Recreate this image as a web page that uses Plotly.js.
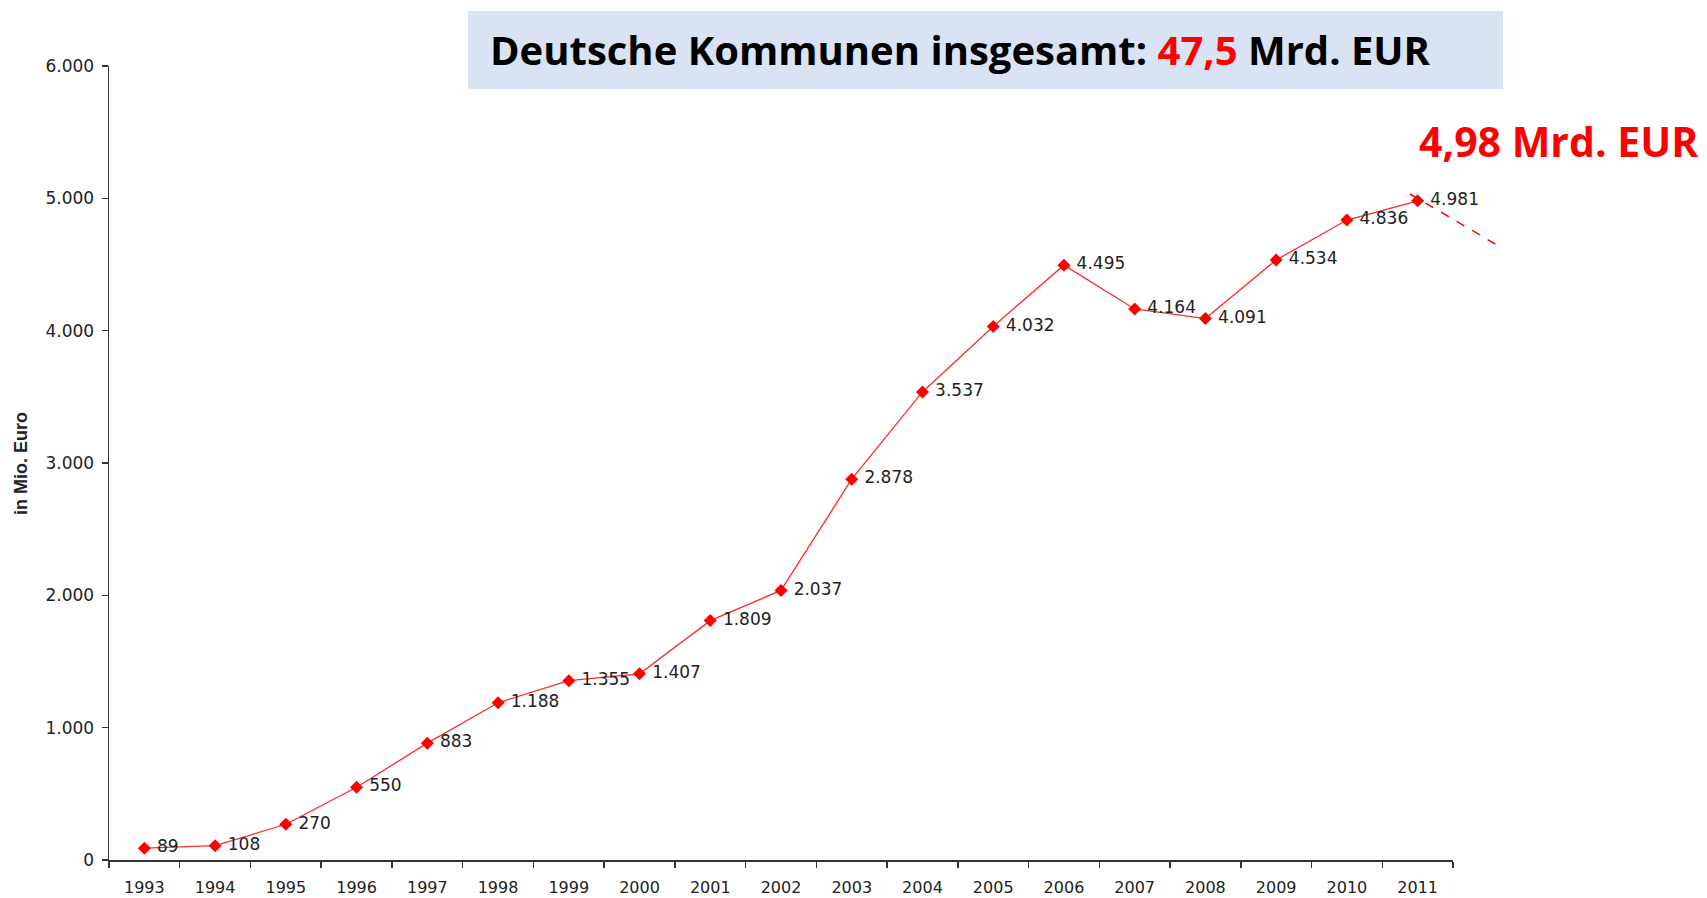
<!DOCTYPE html>
<html>
<head>
<meta charset="utf-8">
<script src="https://cdn.plot.ly/plotly-3.0.1.min.js"></script>
<style>html,body{margin:0;padding:0;background:#fff;}#chart{width:1707px;height:898px;}</style>
</head>
<body>
<div id="chart"></div>
<script>
const years = ["1993","1994","1995","1996","1997","1998","1999","2000","2001","2002","2003","2004","2005","2006","2007","2008","2009","2010","2011"];
const values = [89,108,270,550,883,1188,1355,1407,1809,2037,2878,3537,4032,4495,4164,4091,4534,4836,4981];
const yTicks = [0,1000,2000,3000,4000,5000,6000];
const titleText = "Deutsche Kommunen insgesamt: <span style='color:#ff0000'>47,5</span> Mrd. EUR";
const calloutText = "4,98 Mrd. EUR";
const yTitle = "<b>in Mio. Euro</b>";

const trace = {
  x: years, y: values, type: "scatter", mode: "lines+markers+text",
  line: {color: "#ff2a2a", width: 1.3},
  marker: {symbol: "diamond", size: 10, color: "#ff0000"},
  texttemplate: " %{y:,d}", textposition: "middle right",
  textfont: {family: "DejaVu Sans, sans-serif", size: 17, color: "#222"},
  cliponaxis: false, hoverinfo: "x+y"
};

const layout = {
  width: 1707, height: 898,
  margin: {l: 109, r: 254, t: 66, b: 38},
  paper_bgcolor: "#fff", plot_bgcolor: "#fff",
  separators: ",.",
  showlegend: false,
  font: {family: "DejaVu Sans, sans-serif", size: 17, color: "#222"},
  xaxis: {
    type: "category", range: [-0.5, 18.5],
    showline: true, linecolor: "#333", linewidth: 1.5,
    ticks: "outside", tickson: "boundaries", ticklen: 6, tickcolor: "#333", tickwidth: 1.5,
    showgrid: false, zeroline: false,
    tickfont: {family: "DejaVu Sans, sans-serif", size: 16, color: "#222"},
    ticklabelstandoff: 12
  },
  yaxis: {
    range: [0, 6000], tickvals: yTicks, tickformat: ",d",
    showline: true, linecolor: "#333", linewidth: 1.5,
    ticks: "outside", ticklen: 6, tickcolor: "#333", tickwidth: 1.5,
    showgrid: false, zeroline: false,
    tickfont: {family: "DejaVu Sans, sans-serif", size: 17, color: "#222"},
    ticklabelstandoff: 4
  },
  shapes: [
    {type: "rect", xref: "paper", yref: "paper", x0: 0.2671, x1: 1.0372, y0: 0.971, y1: 1.0693,
     fillcolor: "#dae3f3", line: {width: 0}, layer: "below"},
    {type: "line", xref: "paper", yref: "paper", x0: 0.968, y0: 0.8388, x1: 1.0365, y1: 0.7708,
     line: {color: "#ff0000", width: 1.5, dash: "dash"}}
  ],
  annotations: [
    {xref: "paper", yref: "paper", x: 0.6339, y: 1.0202, xanchor: "center", yanchor: "middle",
     text: "<b>" + titleText + "</b>", showarrow: false,
     font: {family: "Open Sans, sans-serif", size: 40, color: "#000"}},
    {xref: "paper", yref: "paper", x: 1.1848, y: 0.905, xanchor: "right", yanchor: "middle",
     text: "<b>" + calloutText + "</b>", showarrow: false,
     font: {family: "Open Sans, sans-serif", size: 41, color: "#ff0000"}},
    {xref: "paper", yref: "paper", x: -0.0655, y: 0.5, xanchor: "center", yanchor: "middle",
     text: yTitle, showarrow: false, textangle: -90,
     font: {family: "Liberation Sans, Arial, sans-serif", size: 18, color: "#222"}}
  ]
};

Plotly.newPlot("chart", [trace], layout, {displayModeBar: false, staticPlot: true});
</script>
</body>
</html>
